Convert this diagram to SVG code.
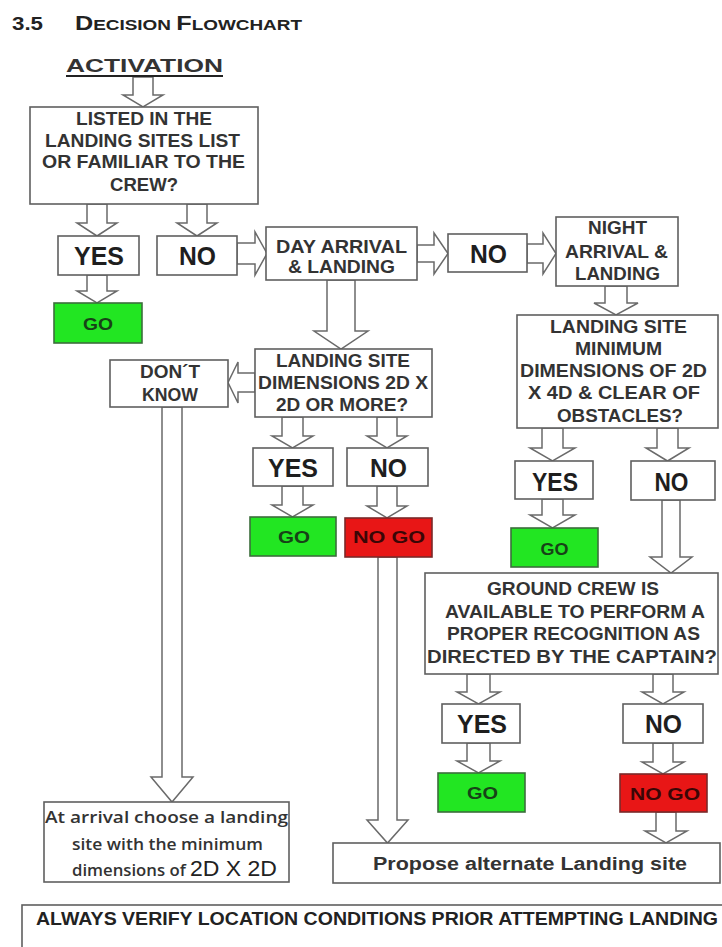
<svg xmlns="http://www.w3.org/2000/svg" width="722" height="947" viewBox="0 0 722 947">
<style>
.box{fill:#fff;stroke:#5f5f5f;stroke-width:1.6}
.go{fill:#22e622;stroke:#3c6e3c;stroke-width:1.6}
.nogo{fill:#e81616;stroke:#7a2a2a;stroke-width:1.6}
.arr{fill:#fff;stroke:#6a6a6a;stroke-width:1.5;stroke-linejoin:miter}
.t{font-family:"Liberation Sans",Arial,sans-serif;font-weight:bold;fill:#333;text-anchor:middle;font-size:18px}
.big{font-size:25px;fill:#1e1e1e}
.gt{font-size:17px;fill:#174217}
.rt{font-size:17px;fill:#3a0606}
.lc{font-family:"Open Sans","Liberation Sans",sans-serif;font-weight:600;fill:#333;font-size:16px}
</style>
<rect width="722" height="947" fill="#fff"/>
<g id="title">
<text x="12" y="30" font-family="Liberation Sans,Arial,sans-serif" font-weight="bold" font-size="19" fill="#222" textLength="31" lengthAdjust="spacingAndGlyphs">3.5</text>
<text x="75" y="30" font-family="Liberation Sans,Arial,sans-serif" font-weight="bold" font-size="20" fill="#222" textLength="227" lengthAdjust="spacingAndGlyphs">D<tspan font-size="15">ECISION </tspan>F<tspan font-size="15">LOWCHART</tspan></text>
</g>
<g id="connectors">
<polygon class="arr" points="133,77 153,77 153,95 163,95 143,107 123,95 133,95"/>
<polygon class="arr" points="87,204 107,204 107,223 117,223 97,236 77,223 87,223"/>
<polygon class="arr" points="187,204 207,204 207,223 217,223 197,236 177,223 187,223"/>
<polygon class="arr" points="87,275 107,275 107,291 117,291 97,303 77,291 87,291"/>
<polygon class="arr" points="237,243 255,243 255,232 267,253.5 255,275 255,264 237,264"/>
<polygon class="arr" points="417,245 434,245 434,233 448,253.5 434,274 434,262 417,262"/>
<polygon class="arr" points="527,244 543,244 543,233 556,253.5 543,274 543,263 527,263"/>
<polygon class="arr" points="605,286 627,286 627,303 638,303 616,315 594,303 605,303"/>
<polygon class="arr" points="327,280 355,280 355,331 368,331 341,349 314,331 327,331"/>
<polygon class="arr" points="255,373 238,373 238,362 228,382.5 238,403 238,392 255,392"/>
<polygon class="arr" points="282,417 303,417 303,436 313,436 292.5,448 272,436 282,436"/>
<polygon class="arr" points="377,417 397,417 397,436 407,436 387,448 367,436 377,436"/>
<polygon class="arr" points="282,486 303,486 303,505 313,505 292.5,517 272,505 282,505"/>
<polygon class="arr" points="377,486 397,486 397,506 407,506 387,518 367,506 377,506"/>
<polygon class="arr" points="378,557 397,557 397,820 408,820 387.5,843 367,820 378,820"/>
<polygon class="arr" points="162,407 182,407 182,777 193,777 172,802 151,777 162,777"/>
<polygon class="arr" points="542,428 563,428 563,448 575,448 552.5,461 530,448 542,448"/>
<polygon class="arr" points="657,428 678,428 678,448 689,448 667.5,461 646,448 657,448"/>
<polygon class="arr" points="542,499 563,499 563,515 575,515 552.5,528 530,515 542,515"/>
<polygon class="arr" points="662,500 680,500 680,557 692,557 671,573 650,557 662,557"/>
<polygon class="arr" points="467,674 490,674 490,692 500,692 478.5,704 457,692 467,692"/>
<polygon class="arr" points="653,674 673,674 673,692 684,692 663,704 642,692 653,692"/>
<polygon class="arr" points="467,743 490,743 490,761 500,761 478.5,773 457,761 467,761"/>
<polygon class="arr" points="653,743 673,743 673,762 684,762 663,774 642,762 653,762"/>
<polygon class="arr" points="656,812 676,812 676,831 687,831 666,843 645,831 656,831"/>
</g>
<g id="activation">
<text x="144.5" y="72" class="t" font-size="24" fill="#222" textLength="157" lengthAdjust="spacingAndGlyphs">ACTIVATION</text>
<line x1="66" y1="76" x2="223" y2="76" stroke="#222" stroke-width="2"/>
</g>
<g id="listed">
<rect class="box" x="30" y="107" width="228" height="97"/>
<text class="t" x="144" y="125" textLength="136" lengthAdjust="spacingAndGlyphs">LISTED IN THE</text>
<text class="t" x="142.5" y="147" textLength="195" lengthAdjust="spacingAndGlyphs">LANDING SITES LIST</text>
<text class="t" x="143.5" y="168" textLength="203" lengthAdjust="spacingAndGlyphs">OR FAMILIAR TO THE</text>
<text class="t" x="144" y="191" textLength="68" lengthAdjust="spacingAndGlyphs">CREW?</text>
</g>
<g id="yes1"><rect class="box" x="58" y="236" width="81" height="39"/><text class="t big" x="99" y="265" textLength="50" lengthAdjust="spacingAndGlyphs">YES</text></g>
<g id="no1"><rect class="box" x="157" y="236" width="80" height="39"/><text class="t big" x="197.5" y="265" textLength="37" lengthAdjust="spacingAndGlyphs">NO</text></g>
<g id="go1"><rect class="go" x="54" y="303" width="88" height="40"/><text class="t gt" x="98" y="330" textLength="30" lengthAdjust="spacingAndGlyphs">GO</text></g>
<g id="day">
<rect class="box" x="266" y="227" width="151" height="53"/>
<text class="t" x="341.5" y="253" textLength="131" lengthAdjust="spacingAndGlyphs">DAY ARRIVAL</text>
<text class="t" x="341.5" y="273" textLength="107" lengthAdjust="spacingAndGlyphs">&amp; LANDING</text>
</g>
<g id="no2"><rect class="box" x="448" y="234" width="79" height="38"/><text class="t big" x="488.5" y="263" textLength="37" lengthAdjust="spacingAndGlyphs">NO</text></g>
<g id="night">
<rect class="box" x="556" y="217" width="122" height="69"/>
<text class="t" x="617.5" y="234" textLength="59" lengthAdjust="spacingAndGlyphs">NIGHT</text>
<text class="t" x="616.5" y="258" textLength="103" lengthAdjust="spacingAndGlyphs">ARRIVAL &amp;</text>
<text class="t" x="617.5" y="280" textLength="85" lengthAdjust="spacingAndGlyphs">LANDING</text>
</g>
<g id="lsmin">
<rect class="box" x="517" y="315" width="201" height="113"/>
<text class="t" x="618.5" y="333" textLength="137" lengthAdjust="spacingAndGlyphs">LANDING SITE</text>
<text class="t" x="618.5" y="355" textLength="87" lengthAdjust="spacingAndGlyphs">MINIMUM</text>
<text class="t" x="613.5" y="377" textLength="187" lengthAdjust="spacingAndGlyphs">DIMENSIONS OF 2D</text>
<text class="t" x="614" y="399" textLength="172" lengthAdjust="spacingAndGlyphs">X 4D &amp; CLEAR OF</text>
<text class="t" x="620" y="422" textLength="126" lengthAdjust="spacingAndGlyphs">OBSTACLES?</text>
</g>
<g id="lsdims">
<rect class="box" x="255" y="349" width="177" height="68"/>
<text class="t" x="343" y="367" textLength="134" lengthAdjust="spacingAndGlyphs">LANDING SITE</text>
<text class="t" x="343" y="389" textLength="170" lengthAdjust="spacingAndGlyphs">DIMENSIONS 2D X</text>
<text class="t" x="342" y="411" textLength="132" lengthAdjust="spacingAndGlyphs">2D OR MORE?</text>
</g>
<g id="dontknow">
<rect class="box" x="110" y="360" width="118" height="47"/>
<text class="t" x="170" y="378" textLength="60" lengthAdjust="spacingAndGlyphs">DON´T</text>
<text class="t" x="170" y="401" textLength="56" lengthAdjust="spacingAndGlyphs">KNOW</text>
</g>
<g id="yes2"><rect class="box" x="253" y="448" width="80" height="38"/><text class="t big" x="293" y="477" textLength="50" lengthAdjust="spacingAndGlyphs">YES</text></g>
<g id="no2b"><rect class="box" x="347" y="448" width="81" height="38"/><text class="t big" x="388.5" y="477" textLength="37" lengthAdjust="spacingAndGlyphs">NO</text></g>
<g id="go2"><rect class="go" x="250" y="517" width="86" height="39"/><text class="t gt" x="294" y="543" textLength="32" lengthAdjust="spacingAndGlyphs">GO</text></g>
<g id="nogo2"><rect class="nogo" x="345" y="518" width="87" height="39"/><text class="t rt" x="389" y="543" textLength="72" lengthAdjust="spacingAndGlyphs">NO GO</text></g>
<g id="yes3"><rect class="box" x="515" y="461" width="78" height="38"/><text class="t big" x="555" y="491" textLength="46" lengthAdjust="spacingAndGlyphs">YES</text></g>
<g id="no3"><rect class="box" x="631" y="461" width="84" height="39"/><text class="t big" x="671.5" y="491" textLength="34" lengthAdjust="spacingAndGlyphs">NO</text></g>
<g id="go3"><rect class="go" x="511" y="528" width="87" height="39"/><text class="t gt" x="554.5" y="555" textLength="28" lengthAdjust="spacingAndGlyphs">GO</text></g>
<g id="groundcrew">
<rect class="box" x="425" y="573" width="293" height="101"/>
<text class="t" x="573" y="595" textLength="172" lengthAdjust="spacingAndGlyphs">GROUND CREW IS</text>
<text class="t" x="575" y="618" textLength="260" lengthAdjust="spacingAndGlyphs">AVAILABLE TO PERFORM A</text>
<text class="t" x="573.5" y="640" textLength="253" lengthAdjust="spacingAndGlyphs">PROPER RECOGNITION AS</text>
<text class="t" x="572" y="663" textLength="290" lengthAdjust="spacingAndGlyphs">DIRECTED BY THE CAPTAIN?</text>
</g>
<g id="yes4"><rect class="box" x="442" y="704" width="78" height="39"/><text class="t big" x="482" y="733" textLength="50" lengthAdjust="spacingAndGlyphs">YES</text></g>
<g id="no4"><rect class="box" x="623" y="704" width="80" height="39"/><text class="t big" x="663.5" y="733" textLength="37" lengthAdjust="spacingAndGlyphs">NO</text></g>
<g id="go4"><rect class="go" x="438" y="773" width="87" height="39"/><text class="t gt" x="482.5" y="799" textLength="31" lengthAdjust="spacingAndGlyphs">GO</text></g>
<g id="nogo4"><rect class="nogo" x="620" y="774" width="87" height="38"/><text class="t rt" x="665" y="800" textLength="70" lengthAdjust="spacingAndGlyphs">NO GO</text></g>
<g id="atarrival">
<rect class="box" x="44" y="802" width="245" height="80"/>
<text class="lc" x="166.5" y="823" text-anchor="middle" textLength="243" lengthAdjust="spacingAndGlyphs">At arrival choose a landing</text>
<text class="lc" x="167.5" y="850" text-anchor="middle" textLength="191" lengthAdjust="spacingAndGlyphs">site with the minimum</text>
<text class="lc" x="72" y="876" textLength="205" lengthAdjust="spacingAndGlyphs">dimensions of <tspan font-family="Liberation Sans,Arial,sans-serif" font-weight="normal" font-size="22" fill="#222">2D X 2D</tspan></text>
</g>
<g id="propose">
<rect class="box" x="333" y="843" width="387" height="40"/>
<text class="t" x="530" y="870" font-size="17" textLength="314" lengthAdjust="spacingAndGlyphs">Propose alternate Landing site</text>
</g>
<g id="always">
<rect class="box" x="22" y="905" width="720" height="60"/>
<text x="36" y="925" font-family="Liberation Sans,Arial,sans-serif" font-weight="bold" font-size="18" fill="#222" textLength="682" lengthAdjust="spacingAndGlyphs">ALWAYS VERIFY LOCATION CONDITIONS PRIOR ATTEMPTING LANDING</text>
</g>
</svg>
